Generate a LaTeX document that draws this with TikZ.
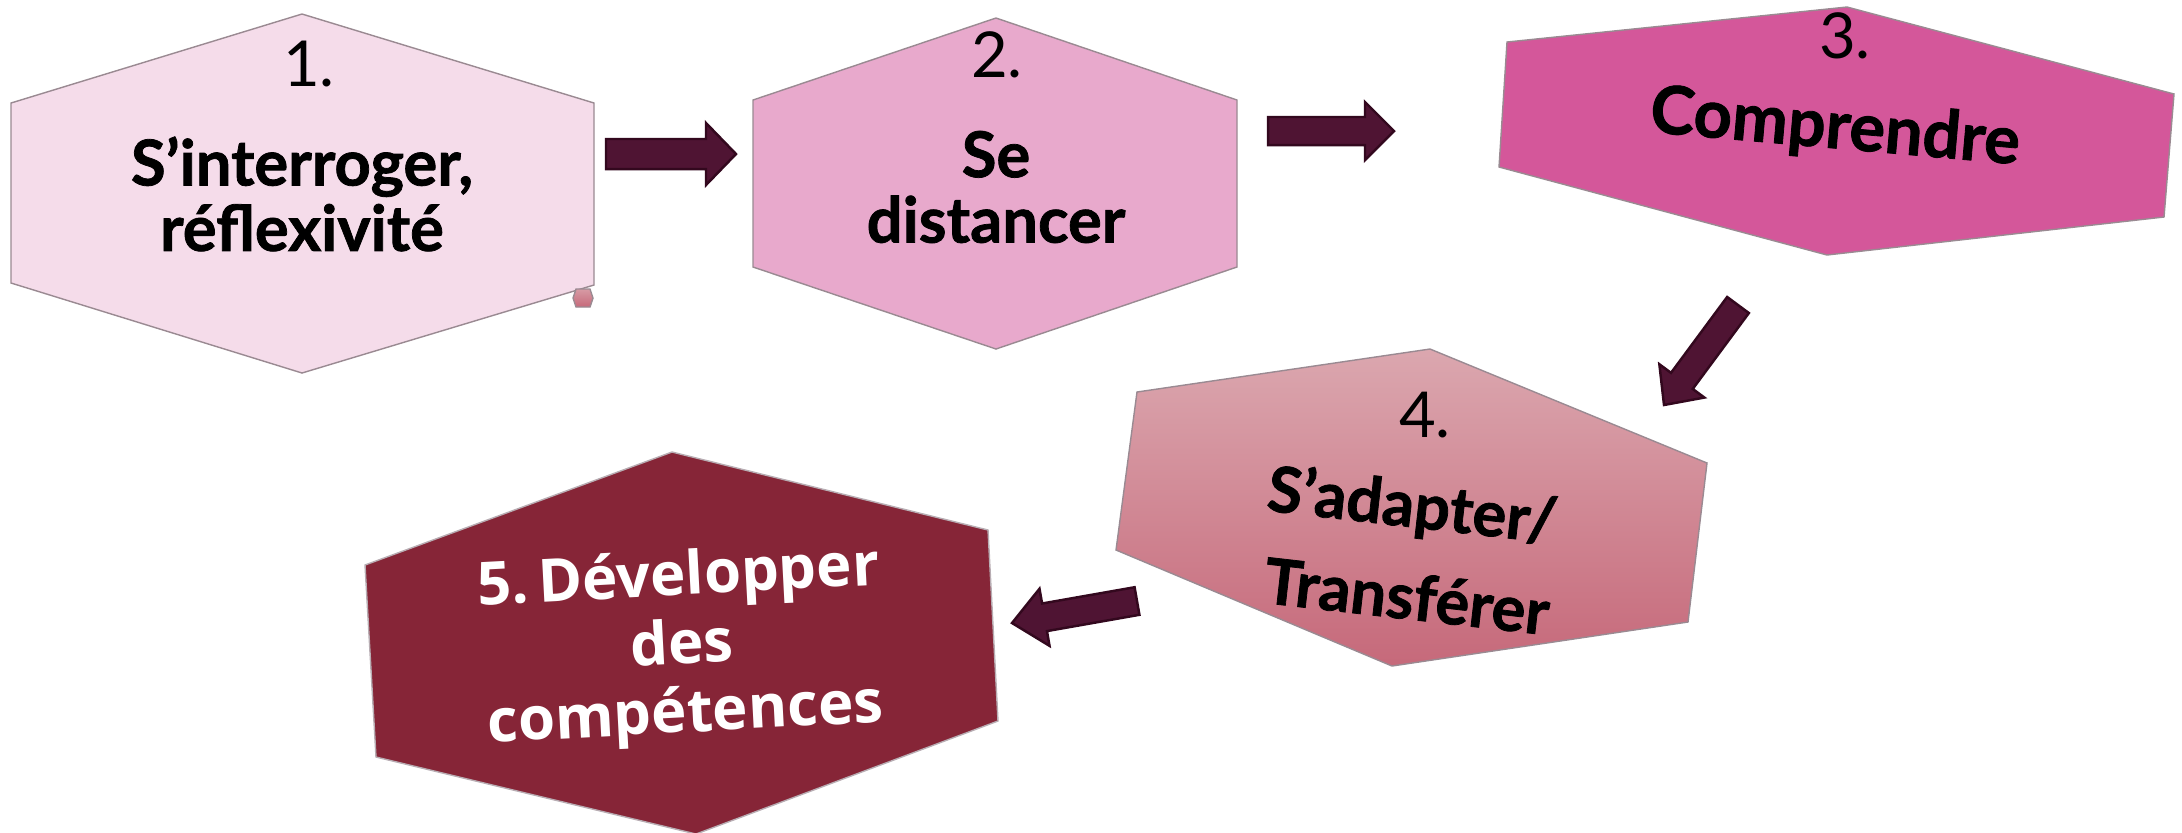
\documentclass[tikz,border=0pt]{standalone}
\usepackage{fontspec}
\setmainfont{Lato}[BoldFeatures={FakeBold=1.2}]
\newfontfamily\osans{Open Sans}
\usetikzlibrary{calc}
\definecolor{hexA}{HTML}{F5DCEA}
\definecolor{hexB}{HTML}{E8A9CC}
\definecolor{hexC}{HTML}{D4579A}
\definecolor{hexDtop}{HTML}{DBA7AF}
\definecolor{hexDbot}{HTML}{C6697A}
\definecolor{hexE}{HTML}{862537}
\definecolor{arrowfill}{HTML}{4F1433}
\definecolor{arrowline}{HTML}{33081E}
\definecolor{edgegray}{HTML}{9A8A92}
\newcommand\blockarrow[6]{%
  \coordinate (#6h) at ($(#2)!#5!(#1)$);
  \path[blockarr] ($(#1)!#3!90:(#2)$) -- ($(#6h)!#3!-90:(#1)$) -- ($(#6h)!#4!-90:(#1)$) -- (#2)
    -- ($(#6h)!#4!90:(#1)$) -- ($(#6h)!#3!90:(#1)$) -- ($(#1)!#3!-90:(#2)$) -- cycle;}
\begin{document}
\begin{tikzpicture}[x=0.01cm,y=-0.01cm,
  hexedge/.style={draw=edgegray,line width=0.4pt},
  blockarr/.style={fill=arrowfill,draw=arrowline,line width=0.7pt,line join=miter},
  numtxt/.style={font=\fontsize{18}{19}\selectfont,text=black,inner sep=0pt},
  lbl/.style={font=\fontsize{18}{18.6}\selectfont\bfseries,text=black,align=center,inner sep=0pt},
  lblw/.style={font=\fontsize{17}{19.5}\selectfont\osans\bfseries,text=white,align=center,inner sep=0pt}]
\useasboundingbox (0,0) rectangle (2182,832);
% hexagons
\path[hexedge,fill=hexA] (302,14) -- (594,103) -- (594,285) -- (302,373) -- (11,283) -- (11,103) -- cycle;
\path[hexedge,fill=hexB] (996,18) -- (1237,100) -- (1237,267) -- (996,349) -- (753,267) -- (753,100) -- cycle;
\path[hexedge,fill=hexC] (1847,7) -- (2174,94) -- (2164,217) -- (1827,255) -- (1499,167) -- (1507,42) -- cycle;
\path[hexedge,top color=hexDtop,bottom color=hexDbot] (1430,349) -- (1707,463) -- (1688,622) -- (1392,666) -- (1116,550) -- (1137,392) -- cycle;
\path[draw=edgegray!70,line width=0.4pt,fill=hexE] (672,452) -- (988,530) -- (998,721) -- (696,834) -- (376,757) -- (365,565) -- cycle;
% small hexagon
\path[draw=edgegray,line width=0.4pt,top color=hexDtop!80!hexDbot,bottom color=hexDbot] (576,289) -- (590,289) -- (593,298) -- (590,307) -- (576,307) -- (573,298) -- cycle;
% texts
\node[numtxt] (n1) at (309,64) {1.};
\node[lbl] (t1) at (302,194) {S’interroger,\\réflexivité};
\node[numtxt] (n2) at (997,55) {2.};
\node[lbl] (t2) at (996,187) {Se\\distancer};
\node[numtxt] (n3) at (1845,36) {3.};
\node[lbl,font=\fontsize{19}{20}\selectfont\bfseries,rotate=-5] (t3) at (1835,129) {Comprendre};
\node[numtxt] (n4) at (1425,415) {4.};
\node[lbl,rotate=-6.5] (t4a) at (1412,508) {S’adapter/};
\node[lbl,rotate=-6.5] (t4b) at (1407,596) {Transférer};
\node[lblw,rotate=3] (t5) at (682,648) {5.\,Développer\\des\\compétences};
% arrows
\coordinate (a1t) at (606,154); \coordinate (a1e) at (736,154);
\coordinate (a2t) at (1268,131); \coordinate (a2e) at (1394,131);
\coordinate (a3t) at (1738,305); \coordinate (a3e) at (1664,405);
\coordinate (a4t) at (1137,601); \coordinate (a4e) at (1012,623);
\blockarrow{a1t}{a1e}{0.15cm}{0.31cm}{0.30cm}{a1}
\blockarrow{a2t}{a2e}{0.14cm}{0.29cm}{0.29cm}{a2}
\blockarrow{a3t}{a3e}{0.135cm}{0.28cm}{0.30cm}{a3}
\blockarrow{a4t}{a4e}{0.14cm}{0.29cm}{0.33cm}{a4}
\end{tikzpicture}
\end{document}
